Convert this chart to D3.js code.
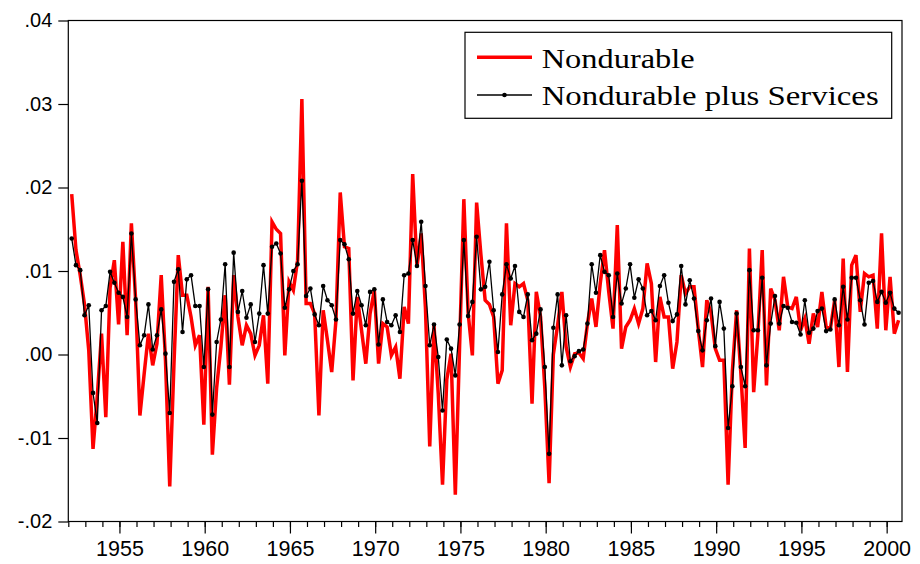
<!DOCTYPE html>
<html>

<head>
    <meta charset="utf-8">
    <script src="https://d3js.org/d3.v7.min.js"></script>
    <style>
        body {
            margin: 0;
            background: #fff;
        }

        svg {
            display: block;
        }

        .axis text {
            font-family: "Liberation Sans", Arial, sans-serif;
            fill: #000;
        }

        .axis line {
            stroke: #000;
            stroke-width: 1.2;
        }
    </style>
</head>

<body>
    <div id="chart"></div>

    <script>
        // quarterly growth rates, 1952Q1 .. 2000Q3
        var firstYear = 1952;

        var nondurable = [
            .0192, .0125, .0095, .006, .0005, -.0113, -.005, .0025, -.0075, .008,
            .0113, .0036, .0135, .0023, .0157, .0065, -.0073, -.0023, .0025, -.0013,
            .0013, .0095, -.0007, -.0158, -.001, .0119, .0071, .0071, .0045, .0011,
            .0023, -.0084, .0081, -.012, -.004, .0009, .0071, -.0036, .0095, .0045,
            .0011, .0035, .0025, -.0001, .0011, .0047, -.0035, .0159, .015, .0145,
            -.0001, .0087, .0077, .0113, .0306, .0061, .0061, .0049, -.0073, .0053,
            .0017, -.0021, .0041, .0194, .0129, .0127, -.0031, .0069, .0029, -.0011,
            .0049, .0077, -.0011, .0037, .0033, -.0001, .0009, -.0029, .0057, .0037,
            .0216, .0105, .0145, .0055, -.011, .0035, -.0047, -.0156, -.003, .0001,
            -.0168, .0009, .0186, .005, -.0001, .0182, .012, .0065, .006, .0045,
            -.0035, -.0019, .0157, .0035, .0085, .0081, .0085, .0065, -.0059, .0075,
            .0045, -.004, -.0154, .0000, .0035, .0075, .0009, -.0015, .0001, .0002,
            -.0005, .0037, .0067, .0033, .0085, .0125, .0075, .0031, .0155, .0007,
            .0033, .0041, .0055, .0037, .0055, .0109, .0085, -.0009, .0069, .0045,
            .0045, -.0017, .0015, .0095, .0073, .0081, .0081, .003, -.0015, .0065,
            .005, .0007, -.0007, -.0007, -.0156, -.002, .0053, -.0023, -.0112, .0127,
            -.0045, .0025, .0125, -.0037, .0079, .0065, .0029, .0093, .0057, .0055,
            .0069, .0029, .0043, .0013, .0049, .0033, .0075, .0033, .0031, .0065,
            -.0015, .0115, -.0021, .0107, .0119, .0051, .0097, .0093, .0095, .0031,
            .0145, .0029, .0093, .0025, .0041
        ];

        var nondurablePlusServices = [
            .0139, .0107, .0101, .0047, .0059, -.0046, -.0082, .0053, .0058, .0099,
            .0086, .0074, .0069, .0045, .0145, .0066, .0011, .0023, .0060, .0006,
            .0023, .0054, .0001, -.0070, .0087, .0102, .0027, .0090, .0095, .0058,
            .0058, -.0015, .0078, -.0072, .0015, .0042, .0108, -.0015, .0122, .0051,
            .0076, .0044, .0060, .0015, .0049, .0107, .0049, .0129, .0133, .0121,
            .0056, .0078, .0100, .0108, .0208, .0070, .0079, .0048, .0035, .0082,
            .0065, .0059, .0042, .0137, .0132, .0114, .0049, .0076, .0059, .0035,
            .0075, .0078, .0012, .0066, .0039, .0035, .0047, .0027, .0095, .0097,
            .0137, .0106, .0159, .0082, .0011, .0036, -.0003, -.0067, .0018, .0007,
            -.0025, .0036, .0137, .0046, .0063, .0141, .0078, .0081, .0111, .0053,
            .0003, .0072, .0108, .0091, .0106, .0051, .0045, .0072, .0017, .0025,
            .0054, -.0015, -.0119, .0032, .0072, -.0013, .0047, -.0008, -.0002, .0004,
            .0006, .0037, .0108, .0074, .0119, .0099, .0095, .0045, .0097, .0061,
            .0079, .0108, .0068, .0090, .0079, .0047, .0052, .0041, .0082, .0095,
            .0062, .0040, .0048, .0106, .0060, .0089, .0067, .0028, .0005, .0041,
            .0067, .0010, .0063, .0031, -.0088, -.0038, .0049, -.0015, -.0038, .0101,
            .0029, .0029, .0092, -.0013, .0037, .0070, .0037, .0058, .0056, .0039,
            .0038, .0024, .0065, .0026, .0031, .0052, .0055, .0028, .0030, .0066,
            .0035, .0081, .0042, .0092, .0092, .0065, .0036, .0086, .0088, .0063,
            .0075, .0062, .0074, .0055, .0050
        ];

        var seriesNames = ["Nondurable", "Nondurable plus Services"];
        var yTicks = [-0.02, -0.01, 0, 0.01, 0.02, 0.03, 0.04];
        var yTickLabels = ["-.02", "-.01", ".00", ".01", ".02", ".03", ".04"];
        var xMajorTicks = [1955, 1960, 1965, 1970, 1975, 1980, 1985, 1990, 1995, 2000];
        var xMinorTicks = d3.range(1952, 2001);

        // set the dimensions of the graph
        var width = 920, height = 564;
        var plot = { left: 68.3, right: 902, top: 20.5, bottom: 521.5 };

        var svg = d3.select("#chart")
            .append("svg")
            .attr("width", width)
            .attr("height", height);

        var x = d3.scaleLinear()
            .domain([1952, 2000.9])
            .range([plot.left, plot.right]);

        var y = d3.scaleLinear()
            .domain([-0.02, 0.04])
            .range([plot.bottom, plot.top]);

        // each quarter sits a little inside its slot of the year
        function quarterPos(i) { return firstYear + i / 4 + 0.2; }

        // Y axis
        svg.append("g")
            .attr("class", "axis")
            .attr("transform", "translate(" + plot.left + ",0)")
            .call(d3.axisLeft(y)
                .tickValues(yTicks)
                .tickFormat(function (d, i) { return yTickLabels[i]; })
                .tickSize(10)
                .tickPadding(6))
            .call(function (g) { g.select(".domain").remove(); })
            .selectAll("text")
            .style("font-size", "20px");

        // X axis: minor ticks every year, labelled ticks every 5 years
        svg.append("g")
            .attr("class", "axis")
            .attr("transform", "translate(0," + plot.bottom + ")")
            .call(d3.axisBottom(x)
                .tickValues(xMinorTicks)
                .tickSize(5.5)
                .tickFormat(""))
            .call(function (g) { g.select(".domain").remove(); });

        svg.append("g")
            .attr("class", "axis")
            .attr("transform", "translate(0," + plot.bottom + ")")
            .call(d3.axisBottom(x)
                .tickValues(xMajorTicks)
                .tickSize(12)
                .tickPadding(7)
                .tickFormat(d3.format("d")))
            .call(function (g) { g.select(".domain").remove(); })
            .selectAll("text")
            .style("font-size", "21.5px");

        // frame
        svg.append("rect")
            .attr("x", plot.left)
            .attr("y", plot.top)
            .attr("width", plot.right - plot.left)
            .attr("height", plot.bottom - plot.top)
            .style("fill", "none")
            .style("stroke", "#000")
            .style("stroke-width", 1.2);

        var line = d3.line()
            .x(function (d, i) { return x(quarterPos(i)); })
            .y(function (d) { return y(d); });

        svg.append("path")
            .datum(nondurable)
            .attr("d", line)
            .style("fill", "none")
            .style("stroke", "#ff0000")
            .style("stroke-width", 3.5);

        svg.append("path")
            .datum(nondurablePlusServices)
            .attr("d", line)
            .style("fill", "none")
            .style("stroke", "#000")
            .style("stroke-width", 1.3);

        svg.append("g")
            .selectAll("circle")
            .data(nondurablePlusServices)
            .enter()
            .append("circle")
            .attr("cx", function (d, i) { return x(quarterPos(i)); })
            .attr("cy", function (d) { return y(d); })
            .attr("r", 2.3)
            .style("fill", "#000");

        // legend
        var legend = svg.append("g")
            .attr("transform", "translate(465,32.3)");

        legend.append("rect")
            .attr("width", 426.7)
            .attr("height", 86)
            .style("fill", "#fff")
            .style("stroke", "#000")
            .style("stroke-width", 1.2);

        legend.append("line")
            .attr("x1", 12).attr("x2", 67)
            .attr("y1", 25).attr("y2", 25)
            .style("stroke", "#ff0000")
            .style("stroke-width", 3.5);

        legend.append("line")
            .attr("x1", 12).attr("x2", 67)
            .attr("y1", 62.7).attr("y2", 62.7)
            .style("stroke", "#000")
            .style("stroke-width", 1.3);

        legend.append("circle")
            .attr("cx", 39.5).attr("cy", 62.7)
            .attr("r", 2.3)
            .style("fill", "#000");

        legend.selectAll("text")
            .data(seriesNames)
            .enter()
            .append("text")
            .attr("x", 76.7)
            .attr("y", function (d, i) { return i === 0 ? 36 : 72.7; })
            .attr("textLength", function (d, i) { return i === 0 ? 153 : 337; })
            .attr("lengthAdjust", "spacingAndGlyphs")
            .style("font-family", "'Liberation Serif', 'Times New Roman', serif")
            .style("font-size", "28px")
            .style("fill", "#000")
            .text(function (d) { return d; });
    </script>
</body>

</html>
